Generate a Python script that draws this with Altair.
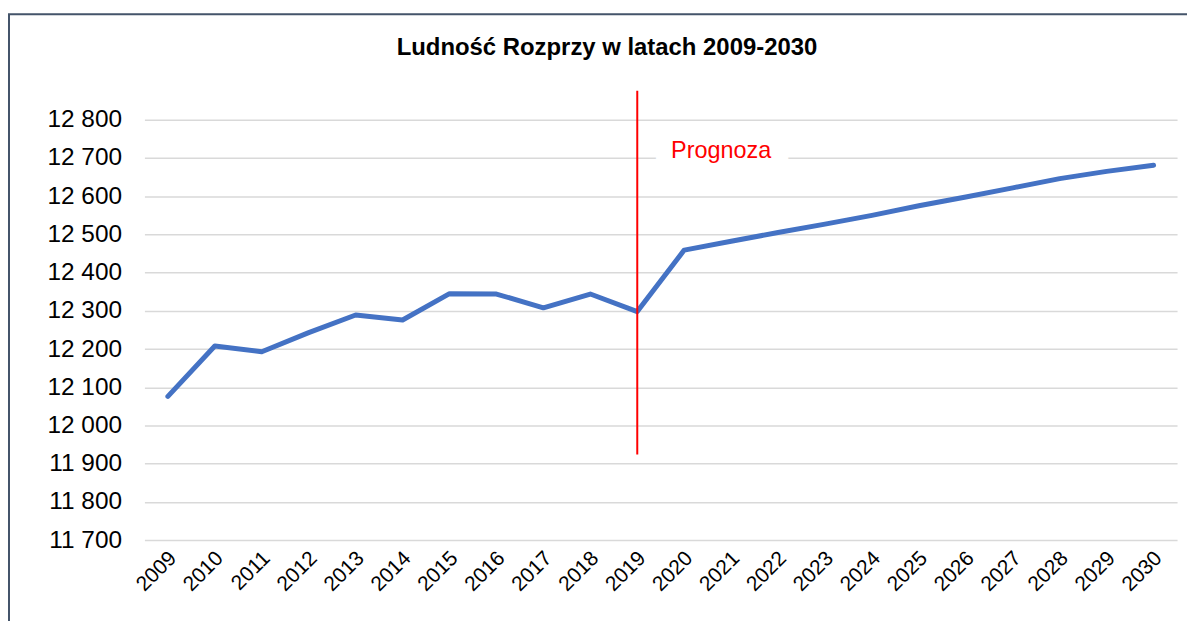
import altair as alt
import pandas as pd

years = [str(y) for y in range(2009, 2031)]
population = [12076, 12208, 12193, 12243, 12289, 12276, 12345, 12344, 12308, 12344, 12298,
              12459, 12482, 12505, 12527, 12550, 12575, 12598, 12622, 12646, 12665, 12681]
y_ticks = list(range(11700, 12801, 100))
forecast_year = ["2019"]
forecast_from = [11924]
forecast_to = [12876]
label_text = ["Prognoza"]
label_value = [12700]
title_text = "Ludność Rozprzy w latach 2009-2030"

W, H = 1037, 422
PAD = {"left": 137, "top": 111, "right": 10, "bottom": 80}
FONT = "Liberation Sans"

df = pd.DataFrame({"year": years, "pop": population})
rule_df = pd.DataFrame({"year": forecast_year, "y1": forecast_from, "y2": forecast_to})
lab_df = pd.DataFrame({"year": forecast_year, "v": label_value, "t": label_text})

xscale = alt.Scale(type="point", padding=0.5, domain=years)
yscale = alt.Scale(domain=[11700, 12800], nice=False, zero=False)

x_axis = alt.Axis(title=None, labelAngle=-45, labelFontSize=21, labelColor="#000000",
                  labelFont=FONT, domain=False, ticks=False, labelOverlap=False,
                  labelPadding=7, labelOffset=-3, grid=False)
y_axis = alt.Axis(title=None, values=y_ticks, labelFontSize=24.5, labelColor="#000000",
                  labelFont=FONT, labelOverlap=False,
                  labelExpr="replace(format(datum.value, ','), ',', ' ')",
                  domain=False, ticks=False, labelPadding=23,
                  gridColor="#D9D9D9", gridWidth=1.5)

line = alt.Chart(df).mark_line(color="#4472C4", strokeWidth=5, strokeCap="round",
                               strokeJoin="round").encode(
    x=alt.X("year:O", scale=xscale, axis=x_axis, sort=None),
    y=alt.Y("pop:Q", scale=yscale, axis=y_axis),
)

rule = alt.Chart(rule_df).mark_rule(color="#FF0000", strokeWidth=2).encode(
    x=alt.X("year:O", scale=xscale, axis=x_axis),
    y=alt.Y("y1:Q", scale=yscale, axis=y_axis),
    y2="y2:Q",
)

label_bg = alt.Chart(lab_df).mark_text(align="left", baseline="alphabetic", dx=34,
                                       fontSize=23.5, font=FONT,
                                       color="#FFFFFF", stroke="#FFFFFF", strokeWidth=34).encode(
    x=alt.X("year:O", scale=xscale, axis=x_axis), y=alt.Y("v:Q", scale=yscale, axis=y_axis),
    text="t:N")

label = alt.Chart(lab_df).mark_text(align="left", baseline="alphabetic", dx=34,
                                    fontSize=23.5, font=FONT,
                                    color="#FF0000").encode(
    x=alt.X("year:O", scale=xscale, axis=x_axis), y=alt.Y("v:Q", scale=yscale, axis=y_axis),
    text="t:N")

frame = alt.Chart(pd.DataFrame({"a": [0]})).mark_rect(
    fill=None, fillOpacity=0, stroke="#44546A", strokeWidth=2).encode(
    x=alt.value(-136), x2=alt.value(W + 60), y=alt.value(-106), y2=alt.value(H + 200))

chart = alt.layer(frame, line, label_bg, label, rule).properties(
    width=W, height=H,
    title=alt.TitleParams(title_text, fontSize=24, font=FONT, fontWeight="bold",
                          color="#000000", anchor="middle", frame="group", offset=0,
                          dy=47, dx=-54),
    autosize=alt.AutoSizeParams(type="none"),
    padding=PAD,
).configure(background="#FFFFFF").configure_view(stroke=None)

chart.save("out.html", embed_options={"renderer": "svg", "actions": False})
